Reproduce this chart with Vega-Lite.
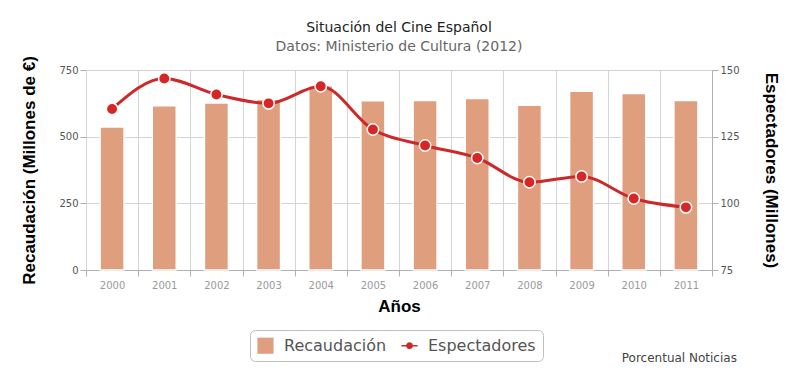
{
  "$schema": "https://vega.github.io/schema/vega-lite/v6.json",
  "autosize": "none",
  "width": 626,
  "height": 200,
  "padding": {"left": 86, "top": 70, "right": 88, "bottom": 112},
  "background": "white",
  "title": {
    "text": "Situación del Cine Español",
    "subtitle": "Datos: Ministerio de Cultura (2012)",
    "font": "DejaVu Sans",
    "fontSize": 14,
    "fontWeight": "normal",
    "color": "#222222",
    "subtitleFont": "DejaVu Sans",
    "subtitleFontSize": 14,
    "subtitleColor": "#666666",
    "subtitlePadding": 5,
    "anchor": "middle",
    "frame": "group",
    "offset": 2
  },
  "config": {
    "view": {"stroke": null},
    "axis": {
      "labelFont": "DejaVu Sans",
      "titleFont": "Liberation Sans",
      "titleFontSize": 17,
      "titleFontWeight": "bold",
      "titleColor": "#000000",
      "gridColor": "#d4d4d4",
      "tickColor": "#b0b0b0",
      "domainColor": "#b0b0b0"
    },
    "legend": {
      "labelFont": "DejaVu Sans",
      "labelFontSize": 16,
      "labelColor": "#555555"
    }
  },
  "data": {
    "values": [
      {"anio": "2000", "recaudacion": 536, "espectadores": 135.4},
      {"anio": "2001", "recaudacion": 616, "espectadores": 146.8},
      {"anio": "2002", "recaudacion": 626, "espectadores": 140.8},
      {"anio": "2003", "recaudacion": 639, "espectadores": 137.5},
      {"anio": "2004", "recaudacion": 691, "espectadores": 143.9},
      {"anio": "2005", "recaudacion": 635, "espectadores": 127.7},
      {"anio": "2006", "recaudacion": 636, "espectadores": 121.7},
      {"anio": "2007", "recaudacion": 643, "espectadores": 117.0},
      {"anio": "2008", "recaudacion": 618, "espectadores": 107.9},
      {"anio": "2009", "recaudacion": 670, "espectadores": 110.1},
      {"anio": "2010", "recaudacion": 662, "espectadores": 101.8},
      {"anio": "2011", "recaudacion": 636, "espectadores": 98.5}
    ]
  },
  "encoding": {
    "x": {
      "field": "anio",
      "type": "ordinal",
      "scale": {"paddingInner": 0, "paddingOuter": 0},
      "axis": {
        "title": "Años",
        "titlePadding": 8,
        "labelAngle": 0,
        "labelFontSize": 10,
        "labelColor": "#9a9a9a",
        "labelPadding": 4,
        "tickBand": "extent",
        "tickSize": 6,
        "grid": true,
        "domainColor": "#b0b0b0"
      }
    }
  },
  "layer": [
    {
      "mark": {"type": "bar", "width": {"band": 0.46}, "stroke": "white", "strokeWidth": 1.5},
      "encoding": {
        "y": {
          "field": "recaudacion",
          "type": "quantitative",
          "scale": {"domain": [0, 750], "nice": false},
          "axis": {
            "title": "Recaudación (Millones de €)",
            "values": [0, 250, 500, 750],
            "labelFontSize": 10,
            "labelColor": "#555555",
            "tickSize": 6,
            "domain": false,
            "grid": true,
            "titlePadding": 20
          }
        },
        "color": {
          "datum": "Recaudación",
          "scale": {"domain": ["Recaudación", "Espectadores"], "range": ["#df9f7f", "#cc2a2a"]},
          "legend": {
            "title": null,
            "orient": "none",
            "legendX": 164,
            "legendY": 260,
            "direction": "horizontal",
            "strokeColor": "#c0c0c0",
            "fillColor": "white",
            "cornerRadius": 5,
            "padding": 7,
            "symbolSize": 260,
            "columnPadding": 14,
            "labelOffset": 10,
            "encode": {
              "symbols": {
                "update": {
                  "shape": {"signal": "datum.label === 'Recaudación' ? 'square' : 'M-1,-0.08H1V0.08H-1Z M0.42,0A0.42,0.42 0 1,1 -0.42,0A0.42,0.42 0 1,1 0.42,0Z'"},
                  "strokeWidth": {"value": 0}
                }
              }
            }
          }
        }
      }
    },
    {
      "mark": {"type": "line", "interpolate": "monotone", "strokeWidth": 3},
      "encoding": {
        "y": {
          "field": "espectadores",
          "type": "quantitative",
          "scale": {"domain": [75, 150], "nice": false, "zero": false},
          "axis": {
            "title": "Espectadores (Millones)",
            "orient": "right",
            "values": [75, 100, 125, 150],
            "labelFontSize": 10,
            "labelColor": "#555555",
            "tickSize": 6,
            "grid": false,
            "domain": true,
            "titlePadding": 22
          }
        },
        "color": {
          "datum": "Espectadores",
          "legend": {
            "title": null,
            "orient": "none",
            "legendX": 164,
            "legendY": 260,
            "direction": "horizontal",
            "strokeColor": "#c0c0c0",
            "fillColor": "white",
            "cornerRadius": 5,
            "padding": 7,
            "symbolSize": 260,
            "columnPadding": 14,
            "labelOffset": 10,
            "encode": {
              "symbols": {
                "update": {
                  "shape": {"signal": "datum.label === 'Recaudación' ? 'square' : 'M-1,-0.08H1V0.08H-1Z M0.42,0A0.42,0.42 0 1,1 -0.42,0A0.42,0.42 0 1,1 0.42,0Z'"},
                  "strokeWidth": {"value": 0}
                }
              }
            }
          }
        }
      }
    },
    {
      "mark": {"type": "point", "filled": true, "size": 130, "stroke": "white", "strokeWidth": 1.5, "opacity": 1},
      "encoding": {
        "y": {"field": "espectadores", "type": "quantitative", "scale": {"domain": [75, 150], "nice": false, "zero": false}, "axis": null},
        "fill": {"value": "#d62626"},
        "color": {
          "datum": "Espectadores",
          "legend": {
            "title": null,
            "orient": "none",
            "legendX": 164,
            "legendY": 260,
            "direction": "horizontal",
            "strokeColor": "#c0c0c0",
            "fillColor": "white",
            "cornerRadius": 5,
            "padding": 7,
            "symbolSize": 260,
            "columnPadding": 14,
            "labelOffset": 10,
            "encode": {
              "symbols": {
                "update": {
                  "shape": {"signal": "datum.label === 'Recaudación' ? 'square' : 'M-1,-0.08H1V0.08H-1Z M0.42,0A0.42,0.42 0 1,1 -0.42,0A0.42,0.42 0 1,1 0.42,0Z'"},
                  "strokeWidth": {"value": 0}
                }
              }
            }
          }
        }
      }
    },
    {
      "data": {"values": [{"credito": "Porcentual Noticias"}]},
      "mark": {"type": "text", "align": "right", "baseline": "middle", "dx": 51, "font": "DejaVu Sans", "fontSize": 12, "color": "#444444"},
      "encoding": {
        "x": {"datum": "2011"},
        "y": {"datum": -330, "scale": {"domain": [0, 750], "nice": false}, "axis": null},
        "text": {"field": "credito"}
      }
    }
  ],
  "resolve": {"scale": {"y": "independent"}}
}
